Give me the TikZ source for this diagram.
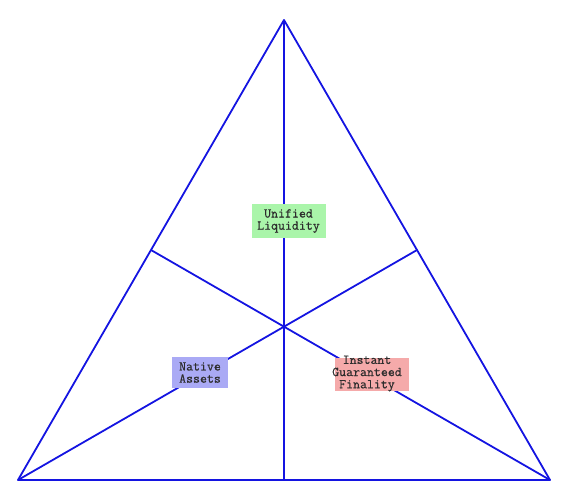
\documentclass[tikz,border=0pt]{standalone}
\usepackage{fontspec}
\newfontfamily\lblfont{Latin Modern Mono}[FakeBold=0.5]
\definecolor{edge}{RGB}{20,20,225}
\definecolor{gfill}{RGB}{170,245,170}
\definecolor{bfill}{RGB}{170,170,245}
\definecolor{rfill}{RGB}{245,170,170}
\definecolor{txt}{RGB}{45,45,45}
\tikzset{
  side/.style={draw=edge, line width=1.8pt},
  boxbg/.style={inner sep=0pt, outer sep=0pt, draw=none},
  lbltext/.style={inner sep=0pt, align=center, text=txt,
    font=\fontsize{13.5}{12.2}\selectfont\lblfont}
}
\begin{document}
\begin{tikzpicture}[x=1pt,y=-1pt]
\useasboundingbox (0,0) rectangle (567,501);
\coordinate (T) at (284,20);
\coordinate (BL) at (18,480);
\coordinate (BR) at (550,480);
\coordinate (MB) at (284,480);
\coordinate (ML) at (151,250);
\coordinate (MR) at (417,250);
\draw[side, line join=round] (T) -- (BR) -- (BL) -- cycle;
\draw[side] (T) -- (MB);
\draw[side] (BL) -- (MR);
\draw[side] (BR) -- (ML);
% labels
\node[boxbg, fill=gfill, minimum width=74pt, minimum height=34pt] (gbox) at (288.5,221) {};
\node[lbltext] (gtext) at (gbox.center) {Unified\\Liquidity};
\node[boxbg, fill=bfill, minimum width=56pt, minimum height=31pt] (bbox) at (200,372.5) {};
\node[lbltext] (btext) at (bbox.center) {Native\\Assets};
\node[boxbg, fill=rfill, minimum width=74pt, minimum height=33pt] (rbox) at (372,374.5) {};
\node[lbltext] (rtext) at (367,373.5) {Instant\\Guaranteed\\Finality};
\end{tikzpicture}
\end{document}
